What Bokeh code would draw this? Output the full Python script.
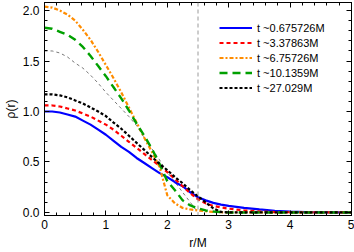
from bokeh.plotting import figure
from bokeh.models import LinearAxis, Legend, LegendItem, Span, FixedTicker, Range1d
from bokeh.embed import file_html
from bokeh.resources import INLINE
from bokeh.core.properties import value

r = [0, 0.125, 0.25, 0.375, 0.5, 0.625, 0.75, 0.875, 1.0, 1.125, 1.25, 1.375, 1.5,
     1.625, 1.75, 1.875, 2.0, 2.125, 2.25, 2.375, 2.5, 2.625, 2.75, 2.875, 3.0,
     3.25, 3.5, 3.75, 4.0, 4.25, 4.5, 4.75, 5.0]

rho_t1 = [1.00, 1.00, 0.99, 0.97, 0.95, 0.91, 0.87, 0.82, 0.77, 0.71, 0.65, 0.60, 0.54,
          0.49, 0.44, 0.39, 0.35, 0.30, 0.26, 0.20, 0.15, 0.12, 0.095, 0.078, 0.065,
          0.045, 0.03, 0.017, 0.009, 0.004, 0.002, 0.001, 0.0]
rho_t2 = [1.06, 1.06, 1.05, 1.03, 1.01, 0.98, 0.95, 0.91, 0.87, 0.82, 0.76, 0.70, 0.64,
          0.58, 0.52, 0.46, 0.40, 0.33, 0.26, 0.19, 0.13, 0.09, 0.065, 0.05, 0.038,
          0.02, 0.01, 0.004, 0.002, 0.001, 0.0, 0.0, 0.0]
rho_t3 = [2.04, 2.03, 2.00, 1.96, 1.90, 1.81, 1.71, 1.59, 1.46, 1.33, 1.19, 1.04, 0.89,
          0.74, 0.60, 0.45, 0.17, 0.09, 0.045, 0.03, 0.02, 0.012, 0.006, 0.002, 0.0,
          0.0, 0.0, 0.0, 0.0, 0.0, 0.0, 0.0, 0.0]
rho_t4 = [1.83, 1.82, 1.79, 1.76, 1.71, 1.64, 1.55, 1.45, 1.35, 1.24, 1.13, 1.01, 0.88,
          0.76, 0.63, 0.48, 0.31, 0.22, 0.12, 0.07, 0.04, 0.02, 0.01, 0.004, 0.0,
          0.0, 0.0, 0.0, 0.0, 0.0, 0.0, 0.0, 0.0]
rho_t5 = [1.17, 1.17, 1.16, 1.14, 1.11, 1.08, 1.04, 1.00, 0.955, 0.89, 0.83, 0.76, 0.69,
          0.62, 0.55, 0.48, 0.42, 0.35, 0.29, 0.22, 0.16, 0.10, 0.04, 0.005, 0.0,
          0.0, 0.0, 0.0, 0.0, 0.0, 0.0, 0.0, 0.0]
r_ref = [0, 0.125, 0.25, 0.375, 0.5, 0.625, 0.75, 0.875, 1.0, 1.125, 1.25, 1.375, 1.5,
         1.625, 1.75, 1.875, 2.0, 2.125, 2.25, 2.375, 2.5]
rho_ref = [1.60, 1.60, 1.58, 1.54, 1.48, 1.43, 1.36, 1.28, 1.19, 1.11, 1.03, 0.95, 0.86,
           0.74, 0.63, 0.52, 0.40, 0.30, 0.20, 0.10, 0.0]
r_mark = 2.5

labels = ["t ~0.675726M", "t ~3.37863M", "t ~6.75726M", "t ~10.1359M", "t ~27.029M"]
x_ticks = [0, 1, 2, 3, 4, 5]
y_ticks = [0.0, 0.5, 1.0, 1.5, 2.0]
y_tick_labels = {0.0: "0.0", 0.5: "0.5", 1.0: "1.0", 1.5: "1.5", 2.0: "2.0"}

FONT = "Liberation Sans"

p = figure(width=354, height=252, output_backend="svg", toolbar_location=None,
           x_range=Range1d(0, 5), y_range=Range1d(-0.03, 2.08),
           min_border_left=42, min_border_right=3, min_border_top=2, min_border_bottom=37,
           x_axis_label="r/M", y_axis_label="ρ(r)")
p.grid.visible = False
p.outline_line_color = "black"
p.outline_line_width = 1

# reference curve and marker line
p.line(r_ref, rho_ref, line_color="#555555", line_width=0.8, line_dash="3 3")
p.add_layout(Span(location=r_mark, dimension="height", line_color="#9a9a9a",
                  line_width=1, line_dash="4 3"))

l1 = p.line(r, rho_t1, line_color="#0000ff", line_width=2.2)
l2 = p.line(r, rho_t2, line_color="#ff0000", line_width=2.2, line_dash="4 3")
l3 = p.line(r, rho_t3, line_color="#ff8c00", line_width=2.2, line_dash="4 2 2 2")
l4 = p.line(r, rho_t4, line_color="#00a000", line_width=2.4, line_dash="8 5")
l5 = p.line(r, rho_t5, line_color="#000000", line_width=2.2, line_dash="3 2")

legend = Legend(items=[LegendItem(label=labels[0], renderers=[l1]),
                       LegendItem(label=labels[1], renderers=[l2]),
                       LegendItem(label=labels[2], renderers=[l3]),
                       LegendItem(label=labels[3], renderers=[l4]),
                       LegendItem(label=labels[4], renderers=[l5])],
                location="top_right")
legend.background_fill_alpha = 0
legend.border_line_alpha = 0
legend.label_text_font = FONT
legend.label_text_font_size = "11px"
legend.label_text_color = "black"
legend.glyph_width = 33
legend.glyph_height = 15
legend.label_height = 15
legend.spacing = 0
legend.label_standoff = 5
legend.padding = 0
legend.margin = 0
legend.location = (175, 120)
p.add_layout(legend)

def style_axis(ax, labels_on=True):
    ax.major_tick_in = 5
    ax.major_tick_out = 0
    ax.minor_tick_in = 3
    ax.minor_tick_out = 0
    ax.axis_line_color = "black"
    ax.major_tick_line_color = "black"
    ax.minor_tick_line_color = "black"
    ax.major_tick_line_width = 1
    ax.minor_tick_line_width = 1
    ax.major_label_text_font = FONT
    ax.major_label_text_font_size = "12px"
    ax.major_label_text_color = "black"
    ax.axis_label_text_font = FONT
    ax.axis_label_text_font_size = "12px"
    ax.axis_label_text_font_style = "normal"
    ax.axis_label_text_color = "black"
    if not labels_on:
        ax.major_label_text_alpha = 0
        ax.major_label_text_font_size = "0px"
        ax.major_label_standoff = 0

xa = p.xaxis[0]
xa.ticker = FixedTicker(ticks=x_ticks, minor_ticks=[i * 0.2 for i in range(26)])
style_axis(xa)
xa.major_label_standoff = 4
xa.axis_label_standoff = 4

ya = p.yaxis[0]
ya.ticker = FixedTicker(ticks=y_ticks, minor_ticks=[i * 0.1 for i in range(21)])
ya.major_label_overrides = y_tick_labels
style_axis(ya)
ya.major_label_standoff = 5
ya.axis_label_standoff = 2

xt = LinearAxis(ticker=FixedTicker(ticks=x_ticks, minor_ticks=[i * 0.2 for i in range(26)]))
style_axis(xt, labels_on=False)
p.add_layout(xt, "above")
yr = LinearAxis(ticker=FixedTicker(ticks=y_ticks, minor_ticks=[i * 0.1 for i in range(21)]))
style_axis(yr, labels_on=False)
p.add_layout(yr, "right")

open("out.html", "w").write(file_html(p, INLINE))
